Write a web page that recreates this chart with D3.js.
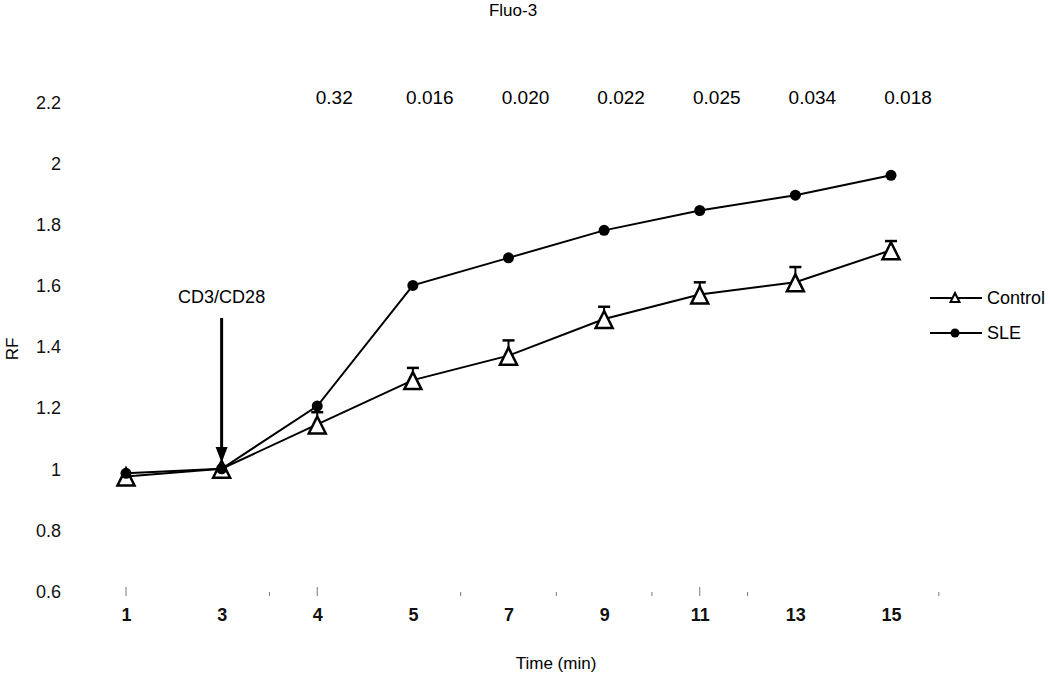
<!DOCTYPE html>
<html>
<head>
<meta charset="utf-8">
<script src="https://cdn.jsdelivr.net/npm/d3@7"></script>
<style>
  html, body { margin: 0; padding: 0; background: #fff; }
  svg { display: block; font-family: "Liberation Sans", Arial, sans-serif; }
</style>
</head>
<body>
<svg id="chart" width="1050" height="679"></svg>
<script>
// ---- data ----
const categories = ["1", "3", "4", "5", "7", "9", "11", "13", "15"];
const controlValues = [0.975, 1.0, 1.145, 1.29, 1.37, 1.49, 1.57, 1.61, 1.715];
const controlErrors = [0, 0, 0.04, 0.04, 0.05, 0.04, 0.04, 0.05, 0.03];
const sleValues = [0.985, 1.0, 1.205, 1.6, 1.69, 1.78, 1.845, 1.895, 1.96];
const pCategories = ["4", "5", "7", "9", "11", "13", "15"];
const pValues = ["0.32", "0.016", "0.020", "0.022", "0.025", "0.034", "0.018"];
const yTicks = [0.6, 0.8, 1, 1.2, 1.4, 1.6, 1.8, 2, 2.2];
const minorTickIdx = [0, 1.5, 2, 3.5, 4.5, 5.5, 6, 6.5, 8.5];
const stimulusCategory = "3";
const stimulusLabel = "CD3/CD28";

// ---- layout ----
const svg = d3.select("#chart");
const x = d3.scalePoint().domain(categories).range([126, 891]);
const step = x.step();
const y = d3.scaleLinear().domain([0.6, 2.2]).range([591, 102]);
const FONT = "Liberation Sans, Arial, sans-serif";

// title
svg.append("text").attr("x", 513).attr("y", 16).attr("text-anchor", "middle")
  .attr("font-size", 17).text("Fluo-3");

// y axis labels (no axis line, as in reference)
const yAxis = d3.axisLeft(y).tickValues(yTicks).tickSize(0).tickPadding(0)
  .tickFormat(d => d3.format("~g")(d));
const gy = svg.append("g").attr("transform", "translate(61,0)").call(yAxis);
gy.select(".domain").remove();
gy.selectAll("text").attr("font-size", 18).attr("font-family", FONT)
  .attr("fill", "#111").attr("dy", "0.35em");

// x axis labels
const xAxis = d3.axisBottom(x).tickSize(0).tickPadding(0);
const gx = svg.append("g").attr("transform", "translate(0,621)").call(xAxis);
gx.select(".domain").remove();
gx.selectAll("text").attr("font-size", 18).attr("font-weight", "bold")
  .attr("font-family", FONT).attr("fill", "#111").attr("dy", "0");

// faint minor tick marks along the baseline
svg.append("g").selectAll("line").data(minorTickIdx).join("line")
  .attr("x1", d => x(categories[0]) + d * step).attr("x2", d => x(categories[0]) + d * step)
  .attr("y1", d => Number.isInteger(d) ? 587 : 592).attr("y2", 596)
  .attr("stroke", "#777").attr("stroke-width", 1);

// axis titles
svg.append("text").attr("x", 556).attr("y", 669).attr("text-anchor", "middle")
  .attr("font-size", 17).text("Time (min)");
svg.append("text").attr("transform", "translate(18,349) rotate(-90)").attr("text-anchor", "middle")
  .attr("font-size", 17).text("RF");

// p-values
svg.append("g").selectAll("text").data(pValues).join("text")
  .attr("x", (d, i) => x(pCategories[i]) + 17).attr("y", 104)
  .attr("text-anchor", "middle").attr("font-size", 19).text(d => d);

// lines
const line = d3.line().x((d, i) => x(categories[i])).y(d => y(d));
svg.append("path").datum(sleValues).attr("d", line)
  .attr("fill", "none").attr("stroke", "#000").attr("stroke-width", 2);
svg.append("path").datum(controlValues).attr("d", line)
  .attr("fill", "none").attr("stroke", "#000").attr("stroke-width", 2);

// error bars (upper only)
const eb = svg.append("g");
controlValues.forEach((v, i) => {
  if (!controlErrors[i]) return;
  const cx = x(categories[i]);
  eb.append("line").attr("x1", cx).attr("x2", cx)
    .attr("y1", y(v)).attr("y2", y(v + controlErrors[i]))
    .attr("stroke", "#000").attr("stroke-width", 2);
  eb.append("line").attr("x1", cx - 6).attr("x2", cx + 6)
    .attr("y1", y(v + controlErrors[i])).attr("y2", y(v + controlErrors[i]))
    .attr("stroke", "#000").attr("stroke-width", 2.5);
});

// control triangles
const tri = (cx, cy, w, up, down) =>
  `M${cx},${cy - up}L${cx + w / 2},${cy + down}L${cx - w / 2},${cy + down}Z`;
svg.append("g").selectAll("path").data(controlValues).join("path")
  .attr("d", (d, i) => tri(x(categories[i]), y(d), 17, 8, 9))
  .attr("fill", "#fff").attr("stroke", "#000").attr("stroke-width", 2.5)
  .attr("stroke-linejoin", "miter");

// SLE circles
svg.append("g").selectAll("circle").data(sleValues).join("circle")
  .attr("cx", (d, i) => x(categories[i])).attr("cy", d => y(d)).attr("r", 5.5)
  .attr("fill", "#000");

// stimulus arrow
const ax = x(stimulusCategory);
svg.append("text").attr("x", ax).attr("y", 303).attr("text-anchor", "middle")
  .attr("font-size", 18).text(stimulusLabel);
svg.append("line").attr("x1", ax).attr("x2", ax).attr("y1", 318).attr("y2", 448)
  .attr("stroke", "#000").attr("stroke-width", 3);
svg.append("path").attr("d", `M${ax - 6},${447}L${ax + 6},${447}L${ax},${y(1) - 6}Z`)
  .attr("fill", "#000");

// legend
const legend = [
  { label: "Control", yy: 298, type: "tri" },
  { label: "SLE", yy: 333, type: "dot" }
];
const lg = svg.append("g");
legend.forEach(l => {
  lg.append("line").attr("x1", 930).attr("x2", 982).attr("y1", l.yy).attr("y2", l.yy)
    .attr("stroke", "#000").attr("stroke-width", 2);
  if (l.type === "tri") {
    lg.append("path").attr("d", tri(955, l.yy, 9, 5, 4))
      .attr("fill", "#fff").attr("stroke", "#000").attr("stroke-width", 2);
  } else {
    lg.append("circle").attr("cx", 955).attr("cy", l.yy).attr("r", 4.5).attr("fill", "#000");
  }
  lg.append("text").attr("x", 987).attr("y", l.yy).attr("dy", "0.35em")
    .attr("font-size", 18).text(l.label);
});
</script>
</body>
</html>
